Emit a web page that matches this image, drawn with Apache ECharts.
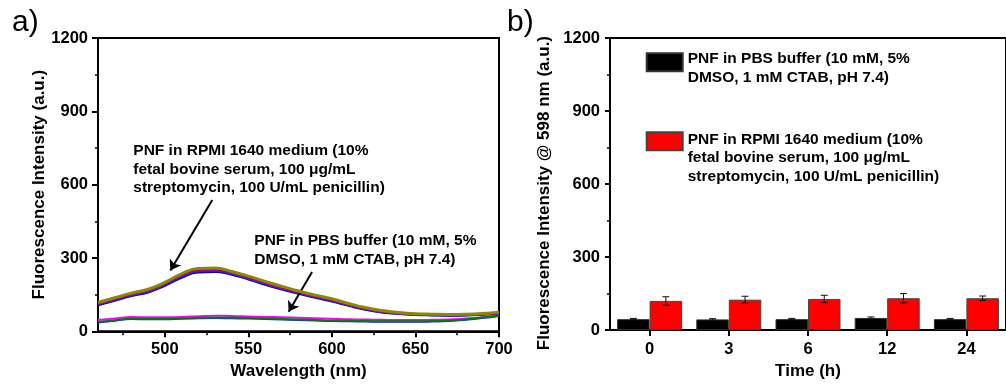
<!DOCTYPE html>
<html><head><meta charset="utf-8">
<script src="https://cdn.jsdelivr.net/npm/echarts@6/dist/echarts.min.js"></script>
<style>html,body{margin:0;padding:0;background:#fff}#c{width:1006px;height:385px}</style>
</head><body><div id="c"></div>
<script>
// ---------- data ----------
const wavelength = [460,470,480,490,500,510,520,530,540,550,560,570,580,590,600,610,620,630,640,650,660,670,680,690,700];
// RPMI 1640 medium spectra (upper band)
const rpmiNavy    = [106,125,144,159,186,219,241,243,231,212,190,171,153,137,122,104,88,77,71,67,65,64,65,68,72];
const rpmiBlue    = [109,128,147,162,190,223,245,247,234,215,193,174,156,139,124,106,90,78,72,68,66,65,66,69,73];
const rpmiMagenta = [112,131,150,166,194,228,250,252,238,219,197,177,159,142,127,108,92,80,73,69,67,66,67,70,74];
const rpmiRed     = [115,134,153,169,197,231,253,255,241,222,200,180,162,145,130,111,94,82,75,70,68,67,68,71,75];
const rpmiOlive   = [118,137,156,172,200,235,257,259,245,226,204,184,165,148,133,114,97,85,77,72,70,69,70,73,78];
// PBS buffer spectra (lower band)
const pbsBlue     = [36,43,50,49,49,51,53,54,53,52,50,48,46,44,42,41,40,39,39,39,40,42,47,54,63];
const pbsMagenta  = [46,52,58,57,57,59,62,64,63,61,59,57,55,53,51,49,48,47,46,46,47,48,52,58,66];
const pbsGreen    = [38,45,52,51,51,53,55,56,56,54,52,50,48,46,44,43,42,41,41,41,42,44,49,56,65];

const timeCategories = ['0','3','6','12','24'];
const pbsBar  = [45,44,45,50,45];
const pbsErr  = [3,3,3,4,3];
const rpmiBar = [120,125,128,131,131];
const rpmiErr = [17,14,15,19,9];

const yTicks = [0,300,600,900,1200];
const xTicks = [500,550,600,650,700];
const xMinorTicks = [475,525,575,625,675];

const arrowRpmi = [[528.4,537],[503.3,249]];
const arrowPbs  = [[588.1,243],[574.1,80]];

const pbsName  = 'PNF in PBS buffer (10 mM, 5% DMSO, 1 mM CTAB, pH 7.4)';
const rpmiName = 'PNF in RPMI 1640 medium (10% fetal bovine serum, 100 μg/mL streptomycin, 100 U/mL penicillin)';
const pbsLines  = ['PNF in PBS buffer (10 mM, 5%','DMSO, 1 mM CTAB, pH 7.4)'];
const rpmiLines = ['PNF in RPMI 1640 medium (10%','fetal bovine serum, 100 μg/mL','streptomycin, 100 U/mL penicillin)'];

// ---------- chart ----------
const FONT = '"Liberation Sans", Arial, sans-serif';
const chart = echarts.init(document.getElementById('c'), null, {renderer:'canvas'});

function lineSeries(name, arr, color, width, z){
  return {
    name, type:'line', xAxisIndex:0, yAxisIndex:0, silent:true, smooth:true,
    showSymbol:false, symbol:'none', z:z,
    lineStyle:{color, width},
    itemStyle:{color},
    data: wavelength.map((w,i)=>[w, arr[i]])
  };
}

function errRender(side){
  return function(params, api){
    const i = api.value(0), v = api.value(1), e = api.value(2);
    const top = api.coord([i, v + e]);
    const bot = api.coord([i, v - e]);
    const x = top[0] + side * 16.25;
    const cap = 3.5;
    const st = {stroke:'#111', lineWidth:1};
    return {type:'group', children:[
      {type:'line', shape:{x1:x, y1:top[1], x2:x, y2:bot[1]}, style:st},
      {type:'line', shape:{x1:x-cap, y1:top[1], x2:x+cap, y2:top[1]}, style:st},
      {type:'line', shape:{x1:x-cap, y1:bot[1], x2:x+cap, y2:bot[1]}, style:st}
    ]};
  };
}

const axisLineStyle = {color:'#000', width:2};
const tickFont = {color:'#000', fontFamily:FONT, fontWeight:'bold', fontSize:16.5};
const nameFont = {color:'#000', fontFamily:FONT, fontWeight:'bold', fontSize:17};
const plainNum = v => String(v);

const option = {
  animation:false,
  backgroundColor:'#fff',
  grid:[
    {left:98, top:38, width:401, height:295, show:true, borderColor:'#000', borderWidth:2, backgroundColor:'transparent'},
    {left:610, top:38, width:404, height:299, show:true, borderColor:'#000', borderWidth:2, backgroundColor:'transparent'}
  ],
  xAxis:[
    {type:'value', gridIndex:0, min:460, max:700,
     axisLine:{show:true, lineStyle:axisLineStyle},
     axisTick:{show:true, customValues:xTicks, length:6, lineStyle:{color:'#000', width:2}},
     axisLabel:{show:true, customValues:xTicks, margin:9.8, formatter:plainNum, ...tickFont},
     splitLine:{show:false},
     name:'Wavelength (nm)', nameLocation:'middle', nameGap:29.8, nameTextStyle:nameFont},
    {type:'value', gridIndex:0, min:460, max:700, position:'bottom',
     axisLine:{show:false},
     axisTick:{show:true, customValues:xMinorTicks, length:4, lineStyle:{color:'#000', width:1.5}},
     axisLabel:{show:false}, splitLine:{show:false}},
    {type:'category', gridIndex:1, data:timeCategories,
     axisLine:{show:true, lineStyle:axisLineStyle},
     axisTick:{show:true, alignWithLabel:true, length:6, lineStyle:{color:'#000', width:2}},
     axisLabel:{margin:11, ...tickFont},
     splitLine:{show:false},
     name:'Time (h)', nameLocation:'middle', nameGap:27.8, nameTextStyle:nameFont}
  ],
  yAxis:[
    {type:'value', gridIndex:0, min:yTicks[0], max:yTicks[yTicks.length-1], interval:300,
     axisLine:{show:true, lineStyle:axisLineStyle},
     axisTick:{show:true, length:6, lineStyle:{color:'#000', width:2}},
     minorTick:{show:true, splitNumber:2, length:3, lineStyle:{color:'#000', width:1.5}},
     axisLabel:{margin:10, formatter:plainNum, ...tickFont},
     splitLine:{show:false},
     name:'Fluorescence Intensity (a.u.)', nameLocation:'middle', nameGap:50, nameTextStyle:nameFont},
    {type:'value', gridIndex:1, min:yTicks[0], max:yTicks[yTicks.length-1], interval:300,
     axisLine:{show:true, lineStyle:axisLineStyle},
     axisTick:{show:true, length:5, lineStyle:{color:'#000', width:2}},
     minorTick:{show:true, splitNumber:2, length:3, lineStyle:{color:'#000', width:1.5}},
     axisLabel:{margin:10, formatter:plainNum, ...tickFont},
     splitLine:{show:false},
     name:'Fluorescence Intensity @ 598 nm (a.u.)', nameLocation:'middle', nameGap:57.5,
     nameTextStyle:{...nameFont, padding:[0,18,0,0]}}
  ],
  legend:{
    show:true, orient:'vertical', left:645.7, top:37.9, padding:0,
    itemWidth:36, itemHeight:18, itemGap:10, selectedMode:false,
    textStyle:{color:'#000', fontFamily:FONT, fontWeight:'bold', fontSize:15.5, lineHeight:18.6,
      rich:{
        s1:{fontSize:1, lineHeight:11.6},
        s2:{fontSize:1, lineHeight:33.4},
        t:{color:'#000', fontFamily:FONT, fontWeight:'bold', fontSize:15.5, lineHeight:18.6}
      }},
    formatter:function(n){
      const isPbs = n === pbsName;
      const lines = isPbs ? pbsLines : rpmiLines;
      return '{' + (isPbs ? 's1' : 's2') + '| }\n' + lines.map(l => '{t|' + l + '}').join('\n');
    },
    data:[
      {name:pbsName, icon:'rect'},
      {name:rpmiName, icon:'rect'}
    ]
  },
  graphic:[
    {type:'text', x:12, y:8, silent:true, style:{text:'a)', fill:'#000', fontSize:30, fontFamily:FONT}},
    {type:'text', x:507, y:8, silent:true, style:{text:'b)', fill:'#000', fontSize:30, fontFamily:FONT}},
    {type:'text', x:133.3, y:141.8, silent:true, z:10,
     style:{text:rpmiLines.join('\n'), fill:'#000', fontSize:15.5, fontWeight:'bold', fontFamily:FONT, lineHeight:18.3}},
    {type:'text', x:254.3, y:231.5, silent:true, z:10,
     style:{text:pbsLines.join('\n'), fill:'#000', fontSize:15.5, fontWeight:'bold', fontFamily:FONT, lineHeight:18.6}}
  ],
  series:[
    lineSeries('PBS blue', pbsBlue, '#1f1fff', 2, 2),
    lineSeries('PBS magenta', pbsMagenta, '#ff00ff', 2, 3),
    lineSeries('PBS green', pbsGreen, '#008000', 2, 4),
    lineSeries('RPMI navy', rpmiNavy, '#00007f', 2, 2),
    lineSeries('RPMI blue', rpmiBlue, '#2020ff', 2, 3),
    lineSeries('RPMI magenta', rpmiMagenta, '#a000c0', 2, 4),
    lineSeries('RPMI red', rpmiRed, '#c00000', 2, 5),
    Object.assign(lineSeries('RPMI olive', rpmiOlive, '#8a8a00', 3, 6), {
      markLine:{
        silent:true, symbol:['none','arrow'], symbolSize:10, animation:false,
        label:{show:false},
        lineStyle:{color:'#000', width:2, type:'solid'},
        data:[
          [{coord:arrowRpmi[0]}, {coord:arrowRpmi[1]}],
          [{coord:arrowPbs[0]}, {coord:arrowPbs[1]}]
        ]
      }
    }),
    {name:pbsName, type:'bar', xAxisIndex:2, yAxisIndex:1, barWidth:32.5, barGap:'0%',
     itemStyle:{color:'#000', borderColor:'#333', borderWidth:1}, data:pbsBar},
    {name:rpmiName, type:'bar', xAxisIndex:2, yAxisIndex:1, barWidth:32.5, barGap:'0%',
     itemStyle:{color:'#ff0000', borderColor:'#444', borderWidth:1}, data:rpmiBar},
    {name:'PBS error', type:'custom', xAxisIndex:2, yAxisIndex:1, z:5, silent:true,
     renderItem:errRender(-1), data:pbsBar.map((v,i)=>[i, v, pbsErr[i]])},
    {name:'RPMI error', type:'custom', xAxisIndex:2, yAxisIndex:1, z:5, silent:true,
     renderItem:errRender(1), data:rpmiBar.map((v,i)=>[i, v, rpmiErr[i]])}
  ]
};
chart.setOption(option);
</script></body></html>
